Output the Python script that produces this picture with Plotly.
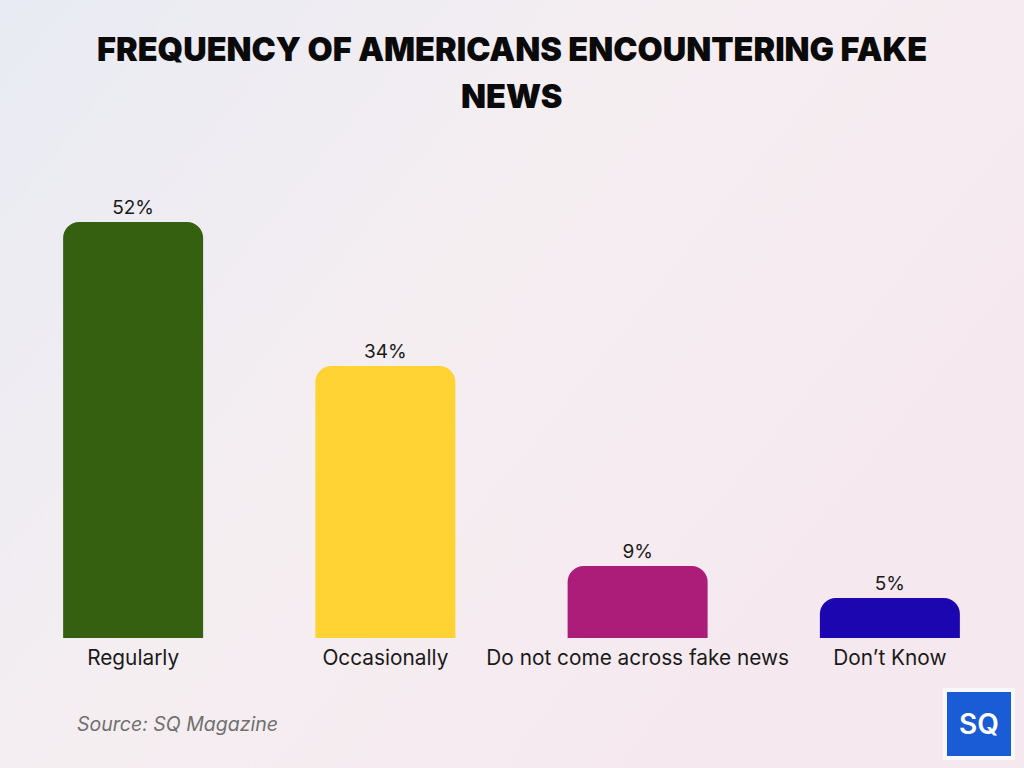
import plotly.graph_objects as go

categories = ["Regularly", "Occasionally", "Do not come across fake news", "Don\u2019t Know"]
values = [52, 34, 9, 5]
value_labels = ["52%", "34%", "9%", "5%"]
colors = ["#34600F", "#FFD333", "#AB1D79", "#1C06B0"]

title_lines = ["FREQUENCY OF AMERICANS ENCOUNTERING FAKE", "NEWS"]
source_text = "Source: SQ Magazine"

bg_svg = (
    "data:image/svg+xml;utf8,"
    "<svg xmlns='http://www.w3.org/2000/svg' width='1024' height='768'>"
    "<defs><linearGradient id='g' x1='0' y1='0' x2='1' y2='0.6'>"
    "<stop offset='0' stop-color='%23E8EBF3'/>"
    "<stop offset='0.5' stop-color='%23F5EEF1'/>"
    "<stop offset='1' stop-color='%23F5E8EF'/>"
    "</linearGradient></defs>"
    "<rect width='1024' height='768' fill='url(%23g)'/></svg>"
)

L, R, T, B = 7, 8, 158, 130
PW, PH = 1024 - L - R, 768 - T - B


def px(x):
    return (x - L) / PW


def py(y):
    return (768 - B - y) / PH


fig = go.Figure()
fig.add_trace(go.Bar(
    x=categories, y=values,
    marker=dict(color=colors, cornerradius=16, line=dict(width=0)),
    text=value_labels, textposition="outside",
    textfont=dict(family="Inter, Roboto, sans-serif", size=19, color="#1a1a1a"),
    cliponaxis=False,
    width=0.555,
))

fig.update_layout(
    width=1024, height=768,
    margin=dict(l=L, r=R, t=T, b=B),
    paper_bgcolor="#F1EEF2",
    plot_bgcolor="rgba(0,0,0,0)",
    showlegend=False,
    bargap=0.445,
    xaxis=dict(showgrid=False, zeroline=False, showline=False, ticks="", ticklabelstandoff=5,
               tickfont=dict(family="Inter, Roboto, sans-serif", size=20.8, color="#1a1a1a")),
    yaxis=dict(range=[0, 60], visible=False),
    images=[dict(source=bg_svg, xref="paper", yref="paper", x=px(0), y=py(0),
                 sizex=1024 / PW, sizey=768 / PH,
                 xanchor="left", yanchor="top", sizing="stretch", layer="below")],
)

for line, yc in zip(title_lines, [50, 97]):
    fig.add_annotation(text=line, xref="paper", yref="paper", x=px(512), y=py(yc),
                       xanchor="center", yanchor="middle", showarrow=False,
                       font=dict(family="Inter, Roboto, sans-serif", size=32.5, color="#0a0a0a", weight=900))

fig.add_annotation(text=source_text, xref="paper", yref="paper", x=px(75), y=py(724),
                   xanchor="left", yanchor="middle", showarrow=False,
                   font=dict(family="Inter, Roboto, sans-serif", size=19.5, color="#707070", style="italic"))

# logo
fig.add_shape(type="rect", xref="paper", yref="paper",
              x0=px(943), x1=px(1015), y0=py(760), y1=py(688),
              fillcolor="#F8F8FB", line=dict(width=0), layer="above")
fig.add_shape(type="rect", xref="paper", yref="paper",
              x0=px(947), x1=px(1011), y0=py(756), y1=py(692),
              fillcolor="#1A5BD6", line=dict(width=0), layer="above")
fig.add_annotation(text="SQ", xref="paper", yref="paper", x=px(979), y=py(724),
                   xanchor="center", yanchor="middle", showarrow=False,
                   font=dict(family="Inter, Roboto, sans-serif", size=28, color="white", weight=600))

fig.write_html("out.html")
